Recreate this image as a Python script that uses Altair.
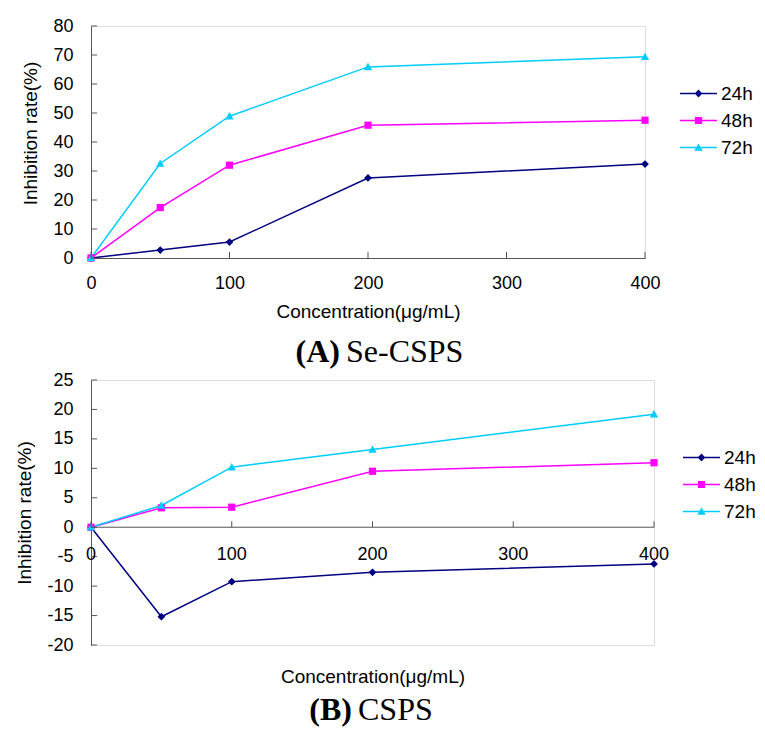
import altair as alt
import pandas as pd

# ---------------- data ----------------
conc = [0, 50, 100, 200, 400]
series = ["24h", "48h", "72h"]

a_24h = [0, 2.75, 5.5, 27.6, 32.4]
a_48h = [0, 17.4, 32.0, 45.8, 47.5]
a_72h = [0, 32.6, 48.9, 65.9, 69.4]

b_24h = [0, -15.2, -9.25, -7.66, -6.24]
b_48h = [0, 3.3, 3.4, 9.5, 10.95]
b_72h = [0, 3.7, 10.2, 13.2, 19.2]

x_ticks = [0, 100, 200, 300, 400]
a_y_ticks = [0, 10, 20, 30, 40, 50, 60, 70, 80]
b_y_ticks = [-20, -15, -10, -5, 0, 5, 10, 15, 20, 25]

colors = ["#000080", "#FF00FF", "#00CCFF"]
markers = [
    "M0,-0.42L0.42,0L0,0.42L-0.42,0Z",
    "M-0.39,-0.39H0.39V0.39H-0.39Z",
    "M0,-0.44L0.45,0.36H-0.45Z",
]
LEG_LINE = "M-2,-0.08H2V0.08H-2Z"
legend_shapes = [LEG_LINE + m for m in markers]

SANS = "Liberation Sans"
SERIF = "Liberation Serif"
AXIS_COLOR = "#555555"


def make_df(vals):
    rows = []
    for s, v in zip(series, vals):
        for c, y in zip(conc, v):
            rows.append({"conc": c, "rate": y, "series": s})
    return pd.DataFrame(rows)


def panel(df, yticks, width, height, cap_bold, cap_rest, cap_x, cap_y,
          leg_x, leg_y, mid_axis, title_y=None):
    xscale = alt.Scale(domain=[x_ticks[0], x_ticks[-1]], nice=False, zero=False)
    yscale = alt.Scale(domain=[yticks[0], yticks[-1]], nice=False, zero=False)
    cscale = alt.Scale(domain=series, range=colors)
    sscale = alt.Scale(domain=series, range=legend_shapes)

    if mid_axis:
        xaxis = alt.Axis(labels=False, ticks=False, domain=False, grid=False,
                         title="Concentration(μg/mL)", titleFont=SANS,
                         titleFontSize=19, titleFontWeight="normal",
                         titleColor="black", titlePadding=22)
    else:
        xaxis = alt.Axis(values=x_ticks, ticks=False, grid=False,
                         domainColor=AXIS_COLOR, labelFont=SANS,
                         labelFontSize=18, labelColor="black", labelPadding=16,
                         labelFlush=False, labelOverlap=False,
                         title="Concentration(μg/mL)", titleFont=SANS,
                         titleFontSize=19, titleFontWeight="normal",
                         titleColor="black", titlePadding=10)
    yaxis_kw = dict(values=yticks, ticks=False, grid=False,
                    domainColor=AXIS_COLOR, labelFont=SANS, labelFontSize=18,
                    labelColor="black", labelPadding=18, labelFlush=False,
                    labelOverlap=False,
                    labelExpr="'' + datum.value",
                    title="Inhibition rate(%)", titleFont=SANS,
                    titleFontSize=19, titleFontWeight="normal",
                    titleColor="black", titlePadding=12)
    if title_y is not None:
        yaxis_kw["titleY"] = title_y
    yaxis = alt.Axis(**yaxis_kw)

    def X(field):
        return alt.X(field, scale=xscale, axis=xaxis)

    def Y(field):
        return alt.Y(field, scale=yscale, axis=yaxis)

    leg = alt.Legend(
        title=None, orient="none", legendX=leg_x, legendY=leg_y,
        symbolSize=342, labelFont=SANS, labelFontSize=19, labelColor="black",
        labelOffset=13, rowPadding=7, symbolStrokeWidth=0, symbolOpacity=1,
        padding=0,
    )

    base = alt.Chart(df)
    layers = []
    for s, col in zip(series, colors):
        layers.append(
            base.transform_filter(alt.datum.series == s)
            .mark_line(strokeWidth=1.5, color=col)
            .encode(x=X("conc:Q"), y=Y("rate:Q"))
        )
    for s, col, m in zip(series, colors, markers):
        layers.append(
            base.transform_filter(alt.datum.series == s).mark_point(
                filled=True, opacity=1, strokeWidth=0, size=342, shape=m, color=col
            ).encode(x=X("conc:Q"), y=Y("rate:Q"))
        )
    # invisible layer that only feeds the legend (line + marker symbols)
    legend_layer = base.mark_point(filled=True, opacity=0, size=342).encode(
        x=X("conc:Q"),
        y=Y("rate:Q"),
        color=alt.Color("series:N", scale=cscale, legend=leg),
        shape=alt.Shape("series:N", scale=sscale, legend=leg),
    )
    layers.append(legend_layer)

    xt_df = pd.DataFrame({"v": x_ticks})
    yt_df = pd.DataFrame({"v": yticks})
    y_zero = alt.YDatum(0, type="quantitative", scale=yscale, axis=yaxis)
    x_zero = alt.XDatum(x_ticks[0], type="quantitative", scale=xscale, axis=xaxis)
    xticks_layer = alt.Chart(xt_df).mark_tick(
        orient="vertical", size=6, thickness=1, yOffset=-3,
        color=AXIS_COLOR, opacity=1).encode(x=X("v:Q"), y=y_zero)
    yticks_layer = alt.Chart(yt_df).mark_tick(
        orient="horizontal", size=6, thickness=1, xOffset=3,
        color=AXIS_COLOR, opacity=1).encode(x=x_zero, y=Y("v:Q"))
    layers += [xticks_layer, yticks_layer]

    if mid_axis:
        zero_rule = alt.Chart(pd.DataFrame({"a": [x_ticks[0]], "b": [x_ticks[-1]]})).mark_rule(
            color=AXIS_COLOR, strokeWidth=1).encode(
            x=X("a:Q"), x2="b:Q", y=y_zero)
        xlabels = alt.Chart(xt_df).mark_text(
            dy=28, fontSize=18, font=SANS, color="black", baseline="middle").encode(
            x=X("v:Q"), y=y_zero, text="v:Q")
        layers = [zero_rule] + layers + [xlabels]

    cap_df = pd.DataFrame({"b": [cap_bold], "r": [cap_rest]})
    cap1 = alt.Chart(cap_df).mark_text(
        font=SERIF, fontSize=32, fontWeight="bold", align="right",
        baseline="alphabetic", color="black").encode(
        x=alt.value(cap_x), y=alt.value(cap_y), text="b:N")
    cap2 = alt.Chart(cap_df).mark_text(
        font=SERIF, fontSize=32, fontWeight="normal", align="left",
        baseline="alphabetic", color="black").encode(
        x=alt.value(cap_x + 6), y=alt.value(cap_y), text="r:N")
    layers += [cap1, cap2]

    return alt.layer(*layers).properties(width=width, height=height)


panel_a = panel(make_df([a_24h, a_48h, a_72h]), a_y_ticks, 554, 232,
                "(A)", "Se-CSPS", 249, 336, 598, 58, False, title_y=107)
panel_b = panel(make_df([b_24h, b_48h, b_72h]), b_y_ticks, 563, 265,
                "(B)", "CSPS", 261, 340, 601, 68, True)

chart = alt.vconcat(panel_a, panel_b, spacing=122, bounds="flush").resolve_legend(
    color="independent", shape="independent"
).properties(
    padding={"left": 7, "top": 8, "right": 0, "bottom": 5}
).configure_view(stroke=None).configure(background="white")

chart.save("out.html", embed_options={"renderer": "svg", "actions": False})
